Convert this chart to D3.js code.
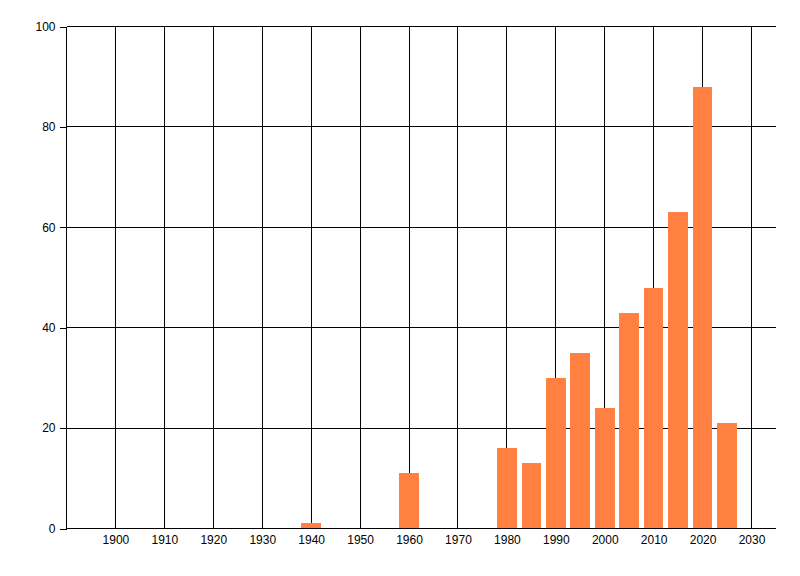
<!DOCTYPE html>
<html>
<head>
<meta charset="utf-8">
<script src="https://cdn.jsdelivr.net/npm/d3@7"></script>
<style>
  html, body { margin: 0; padding: 0; background: #fff; }
  svg { display: block; }
  line, path, rect { shape-rendering: crispEdges; }
  text { font-family: "Liberation Sans", Arial, sans-serif; font-size: 12px; fill: #000; }
</style>
</head>
<body>
<svg id="chart" width="800" height="576"></svg>
<script>
const years = [1940, 1960, 1980, 1985, 1990, 1995, 2000, 2005, 2010, 2015, 2020, 2025];
const counts = [1, 11, 16, 13, 30, 35, 24, 43, 48, 63, 88, 21];
const xTicks = [1900, 1910, 1920, 1930, 1940, 1950, 1960, 1970, 1980, 1990, 2000, 2010, 2020, 2030];
const yTicks = [0, 20, 40, 60, 80, 100];
const xDomain = [1890, 2035];
const yDomain = [0, 100];
const barYears = 4;

(function () {
const svg = d3.select("#chart");
const mLeft = 66.5, mRight = 776, mTop = 26.5, mBottom = 528.5;

const x = d3.scaleLinear().domain(xDomain).range([mLeft, mRight]);
const y = d3.scaleLinear().domain(yDomain).range([mBottom, mTop]);

// gridlines
const grid = svg.append("g");
grid.selectAll("line.h").data(yTicks.filter(d => d > 0)).enter().append("line")
  .attr("x1", mLeft).attr("x2", mRight)
  .attr("y1", d => Math.floor(y(d)) + 0.5).attr("y2", d => Math.floor(y(d)) + 0.5)
  .attr("stroke", "#000").attr("stroke-width", 1);
grid.selectAll("line.v").data(xTicks).enter().append("line")
  .attr("x1", d => Math.floor(x(d)) + 0.5).attr("x2", d => Math.floor(x(d)) + 0.5)
  .attr("y1", mTop).attr("y2", mBottom)
  .attr("stroke", "#000").attr("stroke-width", 1);

// bars
svg.append("g").selectAll("rect").data(years.map((yr, i) => ({yr, v: counts[i]}))).enter().append("rect")
  .attr("x", d => x(d.yr - barYears / 2))
  .attr("width", d => x(d.yr + barYears / 2) - x(d.yr - barYears / 2))
  .attr("y", d => y(d.v))
  .attr("height", d => y(0) - y(d.v))
  .attr("fill", "#FF8040");

// y axis
const yAxis = d3.axisLeft(y).tickValues(yTicks).tickSize(7).tickPadding(4).tickFormat(d3.format("d"));
const ya = svg.append("g").attr("transform", `translate(${mLeft},0)`).call(yAxis);
ya.select(".domain").attr("d", `M0,${mTop}V${mBottom}`).attr("stroke", "#000");
ya.selectAll("text").style("font-family", "Liberation Sans, Arial, sans-serif").style("font-size", "12px");

// x axis
const xAxis = d3.axisBottom(x).tickValues(xTicks).tickSize(0).tickPadding(7).tickFormat(d3.format("d"));
const xa = svg.append("g").attr("transform", `translate(0,${mBottom})`).call(xAxis);
xa.select(".domain").attr("d", `M${mLeft},0H${mRight}`).attr("stroke", "#000");
xa.selectAll("text").style("font-family", "Liberation Sans, Arial, sans-serif").style("font-size", "12px");
})();
</script>
</body>
</html>
